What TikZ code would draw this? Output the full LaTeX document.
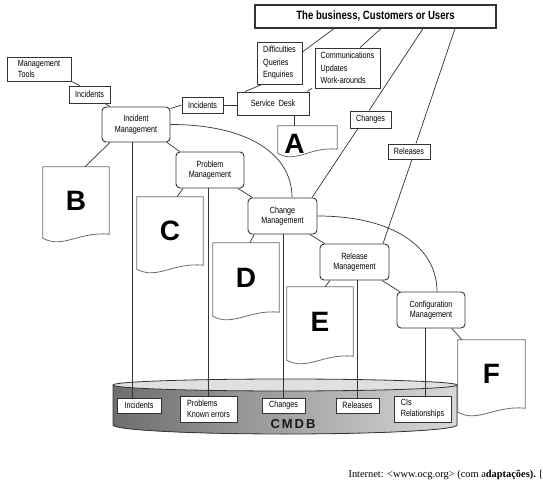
\documentclass[tikz,border=0pt]{standalone}
\usepackage{fontspec}
\usepackage{tikz}
\usetikzlibrary{calc}
\newfontfamily\labelfont[FakeStretch=0.8]{Liberation Sans}
\newfontfamily\letterfont{Liberation Sans}
\newfontfamily\notefont{Liberation Serif}
\definecolor{edgegray}{HTML}{333333}
\definecolor{pagegray}{HTML}{6A6A6A}
\definecolor{cyldark}{HTML}{6E6E6E}
\definecolor{cyllight}{HTML}{D8D8D8}
\definecolor{cyltop}{HTML}{E0E0E0}

\tikzset{
  mgmt/.style={draw=edgegray, fill=white, line width=0.9pt, rounded corners=4pt,
    inner sep=0pt, align=center, font=\labelfont\fontsize{9}{10.5}\selectfont},
  tag/.style={draw=edgegray, fill=white, line width=0.9pt, inner sep=0pt,
    align=left, font=\labelfont\fontsize{9}{12.5}\selectfont},
  dbtag/.style={tag, line width=0.8pt, font=\labelfont\fontsize{9}{11}\selectfont},
  docpage/.style={inner sep=0pt, font=\letterfont\bfseries\fontsize{28}{28}\selectfont},
  wire/.style={draw=edgegray, line width=0.7pt},
  pageline/.style={draw=pagegray, line width=0.8pt},
}

\newcommand\docoutline[1]{%
  \draw[pageline] (#1.north west) -- (#1.north east) -- (#1.south east)
    .. controls ($(#1.south east)!0.45!(#1.south west)+(0,-3)$)
       and ($(#1.south east)!0.7!(#1.south west)+(0,15)$) ..
    ($(#1.south west)+(0,4)$) -- cycle;}

\begin{document}
\begin{tikzpicture}[x=1pt, y=-1pt]
  \useasboundingbox (0,0) rectangle (543,494);

  % CMDB drum
  \fill[left color=cyldark, right color=cyllight] (113,385) -- (113,425)
    arc[start angle=180, end angle=0, x radius=172, y radius=9] -- (457,385)
    arc[start angle=0, end angle=180, x radius=172, y radius=6] -- cycle;
  \draw[edgegray, line width=0.8pt] (113,385) -- (113,425)
    arc[start angle=180, end angle=0, x radius=172, y radius=9] -- (457,385);
  \draw[edgegray, fill=cyltop, line width=0.8pt] (285,385) ellipse[x radius=172, y radius=6];
  \node[font=\letterfont\bfseries\fontsize{13}{13}\selectfont, text=black!90] (cmdb) at (293,424.5)
    {C\hspace{2pt}M\hspace{2pt}D\hspace{2pt}B};

  \node[dbtag, minimum width=44, minimum height=15, align=center] (dbinc) at (139,405.5) {Incidents};
  \node[dbtag, minimum width=57, minimum height=26] (dbprb) at (208.5,409) {Problems\\Known errors};
  \node[dbtag, minimum width=43, minimum height=15, align=center] (dbchg) at (283.5,405.5) {Changes};
  \node[dbtag, minimum width=43, minimum height=15, align=center] (dbrel) at (357.5,405.5) {Releases};
  \node[dbtag, minimum width=57, minimum height=26] (dbcis) at (422.5,409) {CIs\\Relationships};

  % outside world and service desk
  \node[tag, line width=1.2pt, minimum width=241, minimum height=23,
        font=\labelfont\bfseries\fontsize{12}{14}\selectfont] (users) at (375.5,16.5)
    {The business, Customers or Users};
  \node[tag, minimum width=45, minimum height=42] (diff) at (279.5,63) {Difficulties\\Queries\\Enquiries};
  \node[tag, minimum width=65, minimum height=40] (comm) at (347.5,68) {Communications\\Updates\\Work-arounds};
  \node[tag, minimum width=72, minimum height=23] (sdesk) at (273,103.5) {Service\ \ Desk};
  \node[tag, minimum width=41, minimum height=16] (incmid) at (202.5,105) {Incidents};
  \node[tag, minimum width=41, minimum height=17] (chglbl) at (370.5,119.5) {Changes};
  \node[tag, minimum width=42, minimum height=15] (rellbl) at (409,151.5) {Releases};
  \node[tag, minimum width=64, minimum height=24, font=\labelfont\fontsize{9}{11}\selectfont] (mtools) at (39,69) {Management\\Tools};
  \node[tag, minimum width=41, minimum height=17] (incleft) at (89.5,94.5) {Incidents};

  % processes
  \node[mgmt, minimum width=68, minimum height=35] (incmgmt) at (136,124.5) {Incident\\Management};
  \node[mgmt, minimum width=68, minimum height=36] (prbmgmt) at (210,170) {Problem\\Management};
  \node[mgmt, minimum width=69, minimum height=36] (chgmgmt) at (282.5,216) {Change\\Management};
  \node[mgmt, minimum width=69, minimum height=36] (relmgmt) at (354.5,262) {Release\\Management};
  \node[mgmt, minimum width=68, minimum height=36] (cfgmgmt) at (431,310) {Configuration\\Management};

  % documents
  \node[docpage, minimum width=59, minimum height=23] (docA) at (307.5,137.5) {};
  \node[docpage] (letA) at ([xshift=-13pt, yshift=-6pt]docA.center) {A};
  \node[docpage, minimum width=66, minimum height=67] (docB) at (76,200.5) {B};
  \node[docpage, minimum width=66, minimum height=68] (docC) at (170,231) {C};
  \node[docpage, minimum width=66, minimum height=69] (docD) at (246,277.5) {D};
  \node[docpage, minimum width=66, minimum height=69] (docE) at (320,321.5) {E};
  \node[docpage, minimum width=67, minimum height=68] (docF) at (491.5,374) {F};
  \foreach \d in {docA, docB, docC, docD, docE, docF}
    \docoutline{\d};

  % connectors
  \draw[wire] ([xshift=-41.5pt]users.south) -- ([yshift=11pt]diff.east);
  \draw[wire] ([xshift=5.5pt]users.south) -- ([xshift=12.5pt]comm.north);
  \draw[wire] ([xshift=47.5pt]users.south) -- ([xshift=-1.5pt]chglbl.north);
  \draw[wire] ([xshift=-12.5pt]chglbl.south) -- ([xshift=29.5pt]chgmgmt.north);
  \draw[wire] ([xshift=79.5pt]users.south) -- ([xshift=7pt]rellbl.north);
  \draw[wire] ([xshift=3pt]rellbl.south) -- ([xshift=28.5pt]relmgmt.north);
  \draw[wire] ([xshift=-17.5pt]diff.south) -- ([xshift=-28pt]sdesk.north);
  \draw[wire] ([xshift=-35.5pt]comm.south) -- ([xshift=34pt]sdesk.north);
  \draw[wire] (incmid.east) -- (incmid.east -| sdesk.west);
  \draw[wire] (incmid.west) -- ([yshift=-2pt]incmgmt.north east);
  \draw[wire] ([xshift=21pt]sdesk.south) -- ([xshift=21pt]sdesk.south |- docA.north);
  \draw[wire] (mtools.south east) -- ([xshift=-9.5pt]incleft.north);
  \draw[wire] ([xshift=15.5pt]incleft.south) -- ([xshift=-26pt]incmgmt.north);

  \draw[wire] ([xshift=-26pt]incmgmt.south) -- ([xshift=9pt]docB.north);
  \draw[wire] ([xshift=31pt]incmgmt.south) -- ([xshift=4pt]prbmgmt.north west);
  \draw[wire] ([xshift=-27pt]prbmgmt.south) -- ([xshift=7pt]docC.north);
  \draw[wire] ([xshift=28pt]prbmgmt.south) -- ([xshift=5pt]chgmgmt.north west);
  \draw[wire] ([xshift=-28.5pt]chgmgmt.south) -- ([xshift=4pt]docD.north);
  \draw[wire] ([xshift=27.5pt]chgmgmt.south) -- ([xshift=5pt]relmgmt.north west);
  \draw[wire] ([xshift=-24.5pt]relmgmt.south) -- ([xshift=5pt]docE.north);
  \draw[wire] ([xshift=27.5pt]relmgmt.south) -- ([xshift=3pt]cfgmgmt.north west);
  \draw[wire] ([xshift=21pt]cfgmgmt.south) -- ([xshift=4pt]docF.north west);

  \draw[wire] (incmgmt.east) .. controls +(75,0) and +(0,-45) .. ([xshift=9.5pt]chgmgmt.north);
  \draw[wire] (chgmgmt.east) .. controls +(75,0) and +(0,-45) .. ([xshift=6pt]cfgmgmt.north);

  \foreach \src/\dst/\dx in {incmgmt/dbinc/-4, prbmgmt/dbprb/-2, chgmgmt/dbchg/0.5,
                             relmgmt/dbrel/2.5, cfgmgmt/dbcis/-6}
    \draw[wire] ([xshift=\dx pt]\src.south) -- ([xshift=\dx pt]\src.south |- \dst.north);

  \node[anchor=base west, font=\notefont\fontsize{10.4}{12}\selectfont] (source) at (345,477)
    {Internet: <www.ocg.org> (com a\textbf{daptações).} [};
\end{tikzpicture}
\end{document}
